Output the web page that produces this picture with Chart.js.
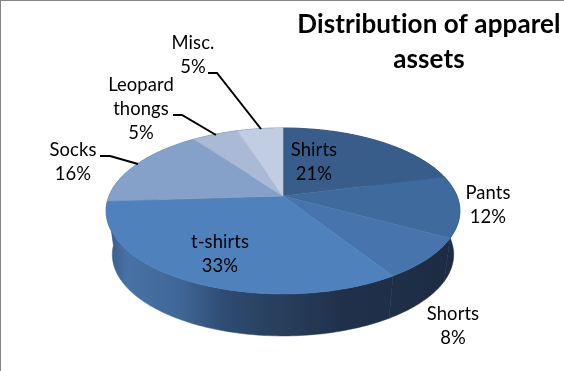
<!DOCTYPE html>
<html>
<head>
<meta charset="utf-8">
<title>Distribution of apparel assets</title>
<script src="https://cdn.jsdelivr.net/npm/chart.js@4/dist/chart.umd.js"></script>
<style>
  html, body { margin: 0; padding: 0; background: #fff; }
  #wrap { position: relative; width: 564px; height: 371px; overflow: hidden; }
</style>
</head>
<body>
<div id="wrap"><canvas id="chart" width="564" height="371"></canvas></div>
<script>
// DATA
const categories = ["Shirts", "Pants", "Shorts", "t-shirts", "Socks", "Leopard thongs", "Misc."];
const shares = [21, 12, 8, 33, 16, 5, 5];
const titleLines = ["Distribution of apparel", "assets"];

// COLOURS
const sliceColors = ["#385d8b", "#3e6a9e", "#4874ad", "#4f81bd", "#85a0c9", "#a9b9d6", "#c1cde2"];
const wallStops = [[0, "#355a88"], [0.057, "#4872a6"], [0.207, "#3f6797"], [0.33, "#2f4c73"],
                   [0.47, "#28405f"], [0.68, "#20304a"], [0.87, "#1f2e47"], [1, "#1c2b40"]];

// LABEL PLACEMENT (text lines, centre x, first baseline y)
const labelLines = {
    "Shirts": { x: 314, y: 156, lines: ["Shirts"] },
    "Pants": { x: 488, y: 199, lines: ["Pants"] },
    "Shorts": { x: 453, y: 320, lines: ["Shorts"] },
    "t-shirts": { x: 220, y: 248, lines: ["t-shirts"] },
    "Socks": { x: 73, y: 156, lines: ["Socks"] },
    "Leopard thongs": { x: 141, y: 91, lines: ["Leopard", "thongs"] },
    "Misc.": { x: 193, y: 49, lines: ["Misc."] }
};
const leaderLines = [
    [[100, 156], [110, 156], [138, 164]],
    [[173, 115], [182, 115], [216, 135]],
    [[208, 73], [217, 73], [261, 129]]
];

// 3D view of the pie: perspective disc seen from above
const view = { cx: 283, cy: 196, a: 174, b: 80.3, k: 0.18, depth: 44, shrink: 0.965 };

function topPoint(angle) {
    const u = Math.cos(angle), v = Math.sin(angle);
    const w = 1 - view.k * v;
    return { x: view.cx + view.a * u / w, y: view.cy + view.b * v / w, v };
}

function bottomPoint(angle) {
    const p = topPoint(angle);
    return { x: view.cx + (p.x - view.cx) * view.shrink, y: p.y + view.depth - 2 * p.v };
}

function tracePoints(ctx, pts) {
    pts.forEach((p, i) => i ? ctx.lineTo(p.x, p.y) : ctx.moveTo(p.x, p.y));
}

function sampleAngles(start, end) {
    const n = Math.max(4, Math.ceil((end - start) / 0.02));
    const out = [];
    for (let i = 0; i <= n; i++) out.push(start + (end - start) * i / n);
    return out;
}

const pie3d = {
    id: 'pie3d',
    beforeDraw(chart) {
        const ctx = chart.ctx;
        ctx.save();
        ctx.fillStyle = '#fff';
        ctx.fillRect(0, 0, chart.width, chart.height);
        ctx.fillStyle = '#868686';
        ctx.fillRect(0, 0, chart.width, 1);
        ctx.fillRect(0, 0, 1, chart.height);
        ctx.restore();
    },
    // draw the slices ourselves from the arc angles chart.js worked out
    beforeDatasetDraw(chart, args) {
        const ctx = chart.ctx;
        const arcs = args.meta.data;
        ctx.save();

        const wall = ctx.createLinearGradient(107, 0, 460, 0);
        wallStops.forEach(s => wall.addColorStop(s[0], s[1]));
        arcs.forEach(arc => {
            const angles = sampleAngles(arc.startAngle, arc.endAngle);
            ctx.beginPath();
            tracePoints(ctx, angles.map(topPoint));
            angles.slice().reverse().map(bottomPoint).forEach(p => ctx.lineTo(p.x, p.y));
            ctx.closePath();
            ctx.fillStyle = wall;
            ctx.strokeStyle = wall;
            ctx.lineWidth = 0.5;
            ctx.fill();
            ctx.stroke();
        });

        arcs.forEach(arc => {
            const color = arc.options.backgroundColor;
            ctx.beginPath();
            ctx.moveTo(view.cx, view.cy);
            sampleAngles(arc.startAngle, arc.endAngle).map(topPoint).forEach(p => ctx.lineTo(p.x, p.y));
            ctx.closePath();
            ctx.fillStyle = color;
            ctx.strokeStyle = color;
            ctx.lineWidth = 0.5;
            ctx.fill();
            ctx.stroke();
        });

        ctx.restore();
        return false;
    },
    afterDraw(chart) {
        const ctx = chart.ctx;
        ctx.save();

        ctx.strokeStyle = '#000';
        ctx.lineWidth = 2;
        leaderLines.forEach(l => {
            ctx.beginPath();
            tracePoints(ctx, l.map(p => ({ x: p[0], y: p[1] })));
            ctx.stroke();
        });

        ctx.textAlign = 'center';
        ctx.textBaseline = 'alphabetic';
        ctx.fillStyle = '#000';
        ctx.letterSpacing = '0.1px'; // stops the "ti" ligature in Lato
        ctx.font = '18.4px Lato';
        categories.forEach((name, i) => {
            const l = labelLines[name];
            const lines = l.lines.concat(shares[i] + '%');
            lines.forEach((t, j) => ctx.fillText(t, l.x, l.y + j * 24));
        });

        ctx.font = 'bold 26px Lato';
        titleLines.forEach((t, j) => ctx.fillText(t, 429, 33 + j * 35));
        ctx.restore();
    }
};

new Chart(document.getElementById('chart'), {
    type: 'pie',
    data: {
        labels: categories,
        datasets: [{ data: shares, backgroundColor: sliceColors, borderWidth: 0 }]
    },
    options: {
        responsive: false,
        animation: false,
        events: [],
        plugins: {
            legend: { display: false },
            tooltip: { enabled: false }
        }
    },
    plugins: [pie3d]
});
</script>
</body>
</html>
